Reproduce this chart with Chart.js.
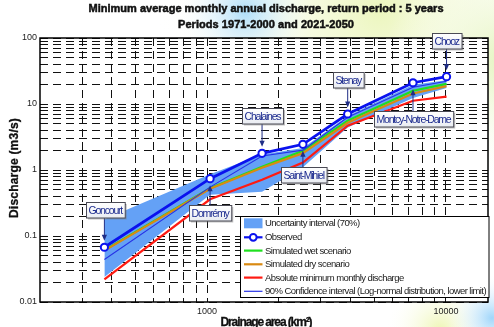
<!DOCTYPE html>
<html>
<head>
<meta charset="utf-8">
<script src="https://cdn.jsdelivr.net/npm/chart.js@4/dist/chart.umd.min.js"></script>
<style>
  html, body { margin: 0; padding: 0; background: #fff; }
  #wrap { width: 494px; height: 327px; }
</style>
</head>
<body>
<div id="wrap"><canvas id="c" width="494" height="327"></canvas></div>
<script>
// Gauging stations along the Meuse, upstream to downstream
const stations = ['Goncourt', 'Domrémy', 'Chalaines', 'Saint-Mihiel', 'Stenay', 'Montcy-Notre-Dame', 'Chooz'];
const drainageArea = [372, 1030, 1700, 2520, 3880, 7280, 10060];          // km²
// 5-year minimum of the average monthly annual discharge (m3/s)
const observed = [0.0675, 0.74, 1.79, 2.45, 7.05, 21.0, 25.9];
const uncertaintyUpper = [0.18, 0.86, 1.72, 2.15, 6.6, 19.5, 23.0];
const uncertaintyLower = [0.024, 0.42, 0.47, 1.1, 4.4, 12.3, 17.5];
const wetScenario = [0.061, 0.53, 1.12, 1.95, 5.6, 15.9, 20.2];
const dryScenario = [0.060, 0.52, 1.08, 1.80, 5.2, 14.4, 18.7];
const absoluteMinimum = [0.022, 0.36, 0.71, 1.30, 4.7, 11.2, 12.9];
const confidenceLower = [0.044, 0.55, 1.63, 2.0, 6.3, 17.9, 22.1];

// Axis ticks (every minor step gets a grid line, decades get a label)
const xTickValues = [300, 400, 500, 600, 700, 800, 900, 1000, 2000, 3000, 4000, 5000, 6000, 7000, 8000, 9000, 10000];
const xTickLabels = ['', '', '', '', '', '', '', '1000', '', '', '', '', '', '', '', '', '10000'];
const yTickValues = [0.02, 0.03, 0.04, 0.05, 0.06, 0.07, 0.08, 0.09, 0.1,
                     0.2, 0.3, 0.4, 0.5, 0.6, 0.7, 0.8, 0.9, 1,
                     2, 3, 4, 5, 6, 7, 8, 9, 10,
                     20, 30, 40, 50, 60, 70, 80, 90, 100, 0.01];
const yTickLabels = ['', '', '', '', '', '', '', '', '0.1',
                     '', '', '', '', '', '', '', '', '1',
                     '', '', '', '', '', '', '', '', '10',
                     '', '', '', '', '', '', '', '', '100', '0.01'];

const legendLabels = [
  'Uncertainty interval (70%)',
  'Observed',
  'Simulated wet scenario',
  'Simulated dry scenario',
  'Absolute minimum monthly discharge',
  '90% Confidence interval (Log-normal distribution, lower limit)'
];

const COLORS = {
  band: '#64a1f6',
  observed: '#0a12ee',
  wet: '#1fe01f',
  dry: '#d98a12',
  minimum: '#ff1a12',
  confidence: '#2632e6',
  tagText: '#1b2a8e',
  arrow: '#1f2d86'
};

const pts = (vals) => vals.map((v, i) => ({ x: drainageArea[i], y: v }));

// Station tags sit above (negative) or below (positive) the observed point
const tagOffset = [-38, 34, -38, 30, -34, 36, -36];

function fittedSpacing(ctx, text, width) {
  ctx.letterSpacing = '0px';
  const natural = ctx.measureText(text).width;
  return (width - natural) / text.length;
}
function fillFitted(ctx, text, left, y, width, heavy) {
  const sp = fittedSpacing(ctx, text, width);
  ctx.letterSpacing = sp + 'px';
  ctx.textAlign = 'left';
  ctx.fillText(text, left, y);
  if (heavy) {
    ctx.strokeStyle = ctx.fillStyle;
    ctx.lineWidth = heavy;
    ctx.strokeText(text, left, y);
  }
  ctx.letterSpacing = '0px';
}

const backdrop = {
  id: 'backdrop',
  beforeDraw(chart) {
    const { ctx, width, height, chartArea: a } = chart;
    ctx.save();
    ctx.fillStyle = '#ffffff';
    ctx.fillRect(0, 0, width, height);
    const blob = (x, y, r, color) => {
      const g = ctx.createRadialGradient(x, y, 0, x, y, r);
      g.addColorStop(0, color);
      g.addColorStop(1, 'rgba(255,255,255,0)');
      ctx.fillStyle = g;
      ctx.fillRect(0, 0, width, height);
    };
    blob(380, 10, 230, 'rgba(236,246,190,1)');
    blob(505, 60, 120, 'rgba(228,244,190,1)');
    blob(245, 12, 70, 'rgba(170,220,250,0.95)');
    blob(440, 330, 55, 'rgba(238,246,180,1)');
    blob(492, 318, 45, 'rgba(160,214,250,1)');
    // plotting area is plain white
    ctx.fillStyle = '#ffffff';
    ctx.fillRect(a.left, a.top, a.right - a.left, a.bottom - a.top);
    ctx.restore();
  }
};

const overlay = {
  id: 'overlay',
  afterDatasetsDraw(chart) {
    const { ctx, chartArea: a, scales: { x, y } } = chart;
    ctx.save();

    // frame
    ctx.strokeStyle = '#000';
    ctx.lineWidth = 1.5;
    ctx.setLineDash([]);
    ctx.strokeRect(a.left, a.top, a.right - a.left, a.bottom - a.top);

    // station tags with arrows
    ctx.font = '10.5px "Liberation Sans", Arial, sans-serif';
    const tagSpacing = fittedSpacing(ctx, 'Montcy-Notre-Dame', 74);
    stations.forEach((name, i) => {
      const px = x.getPixelForValue(drainageArea[i]);
      const py = y.getPixelForValue(observed[i]);
      const cy = py + tagOffset[i];
      ctx.letterSpacing = tagSpacing + 'px';
      const tw = ctx.measureText(name).width - tagSpacing;
      ctx.letterSpacing = '0px';
      const w = tw + 4, h = 15.5;
      const bx = Math.round(px + 0.5 - w / 2) + 0.5, by = Math.round(cy - h / 2) + 0.5;

      // arrow
      const from = tagOffset[i] < 0 ? by + h : by;
      const dir = tagOffset[i] < 0 ? 1 : -1;
      const tip = py - dir * 6.5;
      ctx.strokeStyle = COLORS.arrow;
      ctx.fillStyle = COLORS.arrow;
      ctx.lineWidth = 1;
      ctx.beginPath();
      ctx.moveTo(px, from);
      ctx.lineTo(px, tip - dir * 4);
      ctx.stroke();
      ctx.beginPath();
      ctx.moveTo(px, tip);
      ctx.lineTo(px - 2.6, tip - dir * 6);
      ctx.lineTo(px + 2.6, tip - dir * 6);
      ctx.closePath();
      ctx.fill();

      // shadow + box
      ctx.fillStyle = 'rgba(120,120,120,0.45)';
      ctx.fillRect(bx + 1.5, by + 1.5, w, h);
      const g = ctx.createLinearGradient(0, by, 0, by + h);
      g.addColorStop(0, '#ffffff');
      g.addColorStop(1, '#e9ecf2');
      ctx.fillStyle = g;
      ctx.fillRect(bx, by, w, h);
      ctx.strokeStyle = '#4a4a55';
      ctx.lineWidth = 1;
      ctx.strokeRect(bx, by, w, h);

      ctx.fillStyle = COLORS.tagText;
      ctx.textBaseline = 'middle';
      ctx.letterSpacing = tagSpacing + 'px';
      ctx.textAlign = 'left';
      ctx.fillText(name, bx + 2, by + h / 2 + 0.5);
      ctx.letterSpacing = '0px';
    });

    // legend
    const lx = 240.5, ly = 216.5, lw = 248.5, lh = 81;
    ctx.fillStyle = '#fff';
    ctx.fillRect(lx, ly, lw, lh);
    ctx.strokeStyle = '#000';
    ctx.lineWidth = 1;
    ctx.strokeRect(lx, ly, lw, lh);
    ctx.font = '9.5px "Liberation Sans", Arial, sans-serif';
    const legSpacing = fittedSpacing(ctx, legendLabels[5], 221);
    const rowY = [223.3, 237.3, 250.6, 264.3, 277.6, 291.3];
    const sx0 = 244, sx1 = 262.5;
    legendLabels.forEach((label, i) => {
      const ry = rowY[i];
      if (i === 0) {
        ctx.fillStyle = COLORS.band;
        ctx.fillRect(sx0, ry - 5, sx1 - sx0, 10);
      } else {
        const col = [null, COLORS.observed, COLORS.wet, COLORS.dry, COLORS.minimum, COLORS.confidence][i];
        ctx.strokeStyle = col;
        ctx.lineWidth = i === 5 ? 1.2 : 2.2;
        ctx.beginPath();
        ctx.moveTo(sx0, ry);
        ctx.lineTo(sx1, ry);
        ctx.stroke();
        if (i === 1) {
          ctx.fillStyle = '#fff';
          ctx.lineWidth = 2;
          ctx.beginPath();
          ctx.arc((sx0 + sx1) / 2, ry, 3.4, 0, Math.PI * 2);
          ctx.fill();
          ctx.stroke();
        }
      }
      ctx.fillStyle = '#1a1a1a';
      ctx.textBaseline = 'middle';
      ctx.textAlign = 'left';
      ctx.letterSpacing = legSpacing + 'px';
      ctx.fillText(label, 265, ry + 0.5);
      ctx.letterSpacing = '0px';
    });

    ctx.restore();
  },
  afterDraw(chart) {
    const { ctx } = chart;
    ctx.save();
    ctx.fillStyle = '#111';
    ctx.textBaseline = 'middle';
    ctx.font = 'bold 11px "Liberation Sans", Arial, sans-serif';
    fillFitted(ctx, 'Minimum average monthly annual discharge, return period : 5 years', 88.5, 8.5, 355, 0.5);
    fillFitted(ctx, 'Periods 1971-2000 and 2021-2050', 178, 24.8, 176, 0.5);

    ctx.font = 'bold 12px "Liberation Sans", Arial, sans-serif';
    fillFitted(ctx, 'Drainage area (km²)', 220.5, 322.5, 91, 0.3);
    ctx.translate(14.5, 168);
    ctx.rotate(-Math.PI / 2);
    fillFitted(ctx, 'Discharge (m3/s)', -50, 0, 100, 0.3);
    ctx.restore();
  }
};

const lineDefaults = { pointRadius: 0, tension: 0, fill: false };

new Chart(document.getElementById('c'), {
  type: 'line',
  data: {
    datasets: [
      { ...lineDefaults, label: legendLabels[1], data: pts(observed), borderColor: COLORS.observed, borderWidth: 2.8,
        pointRadius: 3.6, pointBorderWidth: 2, pointBackgroundColor: '#fff', pointBorderColor: COLORS.observed },
      { ...lineDefaults, label: legendLabels[5], data: pts(confidenceLower), borderColor: COLORS.confidence, borderWidth: 1.1 },
      { ...lineDefaults, label: legendLabels[3], data: pts(dryScenario), borderColor: COLORS.dry, borderWidth: 2.2 },
      { ...lineDefaults, label: legendLabels[2], data: pts(wetScenario), borderColor: COLORS.wet, borderWidth: 2.2 },
      { ...lineDefaults, label: legendLabels[4], data: pts(absoluteMinimum), borderColor: COLORS.minimum, borderWidth: 2.2 },
      { ...lineDefaults, label: legendLabels[0], data: pts(uncertaintyUpper), borderWidth: 0, borderColor: 'rgba(0,0,0,0)',
        backgroundColor: COLORS.band, fill: '+1' },
      { ...lineDefaults, label: legendLabels[0] + ' (lower)', data: pts(uncertaintyLower), borderWidth: 0, borderColor: 'rgba(0,0,0,0)' }
    ]
  },
  options: {
    responsive: false,
    animation: false,
    devicePixelRatio: 1,
    layout: { padding: { top: 38, right: 3, left: 0, bottom: 0 } },
    plugins: { legend: { display: false }, title: { display: false }, tooltip: { enabled: false } },
    scales: {
      x: {
        type: 'logarithmic',
        min: 200,
        max: 15000,
        afterBuildTicks: (scale) => { scale.ticks = xTickValues.map(v => ({ value: v })); },
        afterFit: (scale) => { scale.height = 25; },
        ticks: {
          autoSkip: false, maxRotation: 0, padding: 4, color: '#222',
          font: { family: '"Liberation Sans", Arial, sans-serif', size: 9 },
          callback: (value, index) => xTickLabels[index]
        },
        grid: { color: '#111', lineWidth: 1, drawTicks: false },
        border: { display: false, dash: [8, 5] }
      },
      y: {
        type: 'logarithmic',
        min: 0.01,
        max: 100,
        afterBuildTicks: (scale) => { scale.ticks = yTickValues.map(v => ({ value: v })); },
        afterFit: (scale) => { scale.width = 40; },
        ticks: {
          autoSkip: false, padding: 3, color: '#222',
          font: { family: '"Liberation Sans", Arial, sans-serif', size: 9 },
          callback: (value, index) => yTickLabels[index]
        },
        grid: { color: '#111', lineWidth: 1, drawTicks: false },
        border: { display: false, dash: [8, 5] }
      }
    }
  },
  plugins: [backdrop, overlay]
});
</script>
</body>
</html>
